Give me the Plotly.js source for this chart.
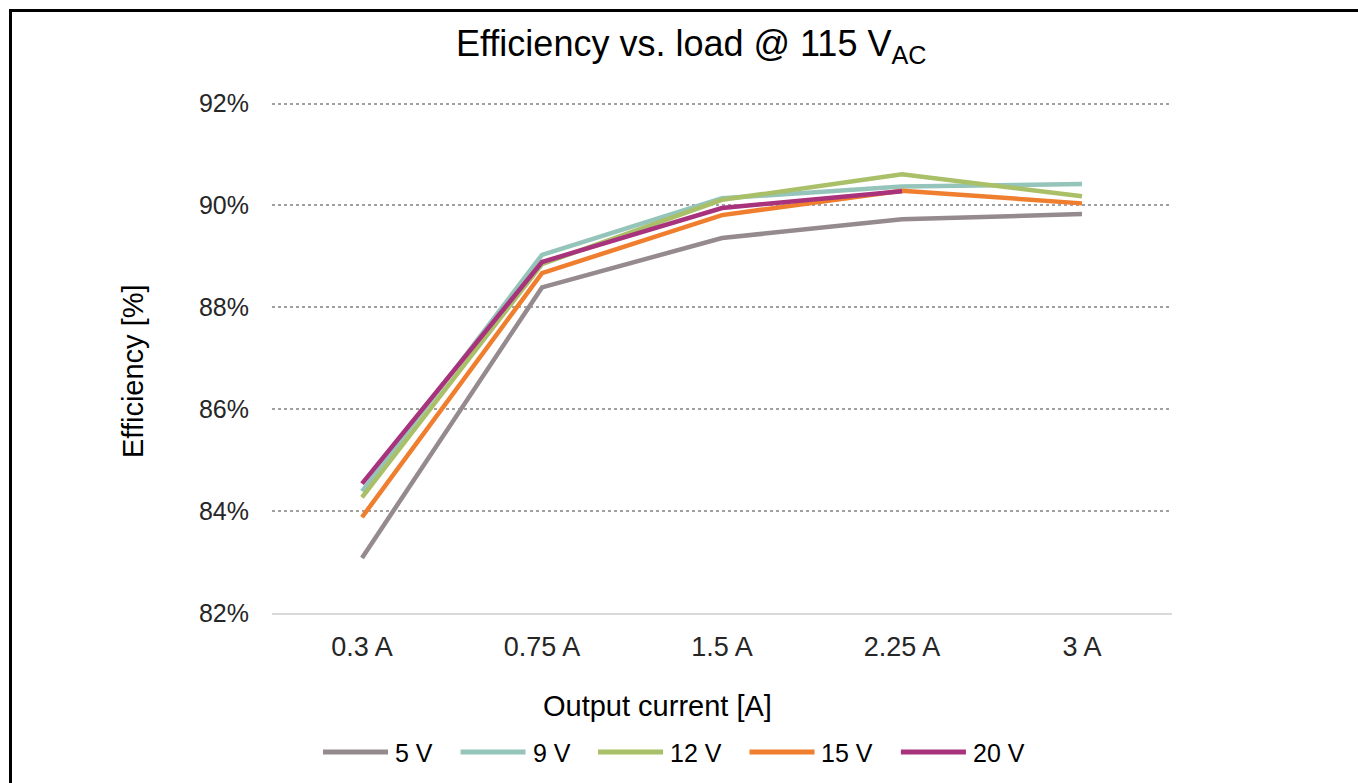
<!DOCTYPE html>
<html>
<head>
<meta charset="utf-8">
<script src="https://cdn.plot.ly/plotly-3.0.1.min.js"></script>
<style>
  html, body { margin: 0; padding: 0; background: #fff; }
  #chart { width: 1358px; height: 783px; }
  #frame { position: absolute; left: 9px; top: 9px; width: 1360px; height: 790px;
           border-left: 3px solid #000; border-top: 3px solid #000; pointer-events: none; }
</style>
</head>
<body>
<div id="chart"></div>
<div id="frame"></div>
<script>
const categories = ["0.3 A", "0.75 A", "1.5 A", "2.25 A", "3 A"];
const seriesNames = ["5 V", "9 V", "12 V", "15 V", "20 V"];
const v5  = [83.08, 88.39, 89.36, 89.73, 89.83];
const v9  = [84.39, 89.03, 90.14, 90.37, 90.42];
const v12 = [84.27, 88.85, 90.11, 90.61, 90.18];
const v15 = [83.88, 88.67, 89.81, 90.29, 90.04];
const v20 = [84.54, 88.89, 89.95, 90.28, null];
const yTicks = [82, 84, 86, 88, 90, 92];
const yTickText = ["82%", "84%", "86%", "88%", "90%", "92%"];
const colors = ["#958a8d", "#95c4ba", "#a9c068", "#f07e2f", "#a8327b"];

const allValues = [v5, v9, v12, v15, v20];
const traces = allValues.map((vals, i) => ({
  type: "scatter",
  mode: "lines",
  name: seriesNames[i],
  x: categories,
  y: vals,
  line: { color: colors[i], width: 4.5 },
  connectgaps: false,
  showlegend: false
}));

const font = "Liberation Sans, Arial, sans-serif";

// plot geometry (pixels) used to place the custom legend in paper coords
const M = { l: 272, r: 186, t: 102, b: 170 };
const W = 1358, H = 783;
const pw = W - M.l - M.r, ph = H - M.t - M.b;
const px2x = px => (px - M.l) / pw;
const py2y = py => (H - M.b - py) / ph;

// custom legend with long line samples, built from seriesNames / colors
const legendFontSize = 25;
const ctx = document.createElement("canvas").getContext("2d");
ctx.font = legendFontSize + "px 'Liberation Sans', Arial, sans-serif";
const legendShapes = [], legendAnn = [];
let lx = 323;
const legendY = 752, lineLen = 65, txtGap = 5, itemGap = 30;
seriesNames.forEach((name, i) => {
  legendShapes.push({
    type: "line", xref: "paper", yref: "paper",
    x0: px2x(lx), x1: px2x(lx + lineLen), y0: py2y(legendY), y1: py2y(legendY),
    line: { color: colors[i], width: 5 }
  });
  legendAnn.push({
    text: name, xref: "paper", yref: "paper",
    x: px2x(lx + lineLen + txtGap), y: py2y(legendY + 1),
    xanchor: "left", yanchor: "middle", showarrow: false,
    font: { size: legendFontSize, color: "#000" }
  });
  lx += lineLen + txtGap + ctx.measureText(name).width + itemGap;
});

const layout = {
  width: W, height: H,
  margin: M,
  paper_bgcolor: "#fff", plot_bgcolor: "#fff",
  font: { family: font, color: "#000" },
  title: {
    text: "Efficiency vs. load @ 115 V<sub>AC</sub>",
    font: { size: 36, color: "#000", family: font },
    x: 0.509, xanchor: "center", y: 0.944, yanchor: "middle"
  },
  xaxis: {
    type: "category",
    range: [-0.5, 4.5],
    showgrid: false,
    showline: true, linecolor: "#d9d9d9", linewidth: 2,
    ticks: "", tickfont: { size: 27, color: "#262626" },
    ticklabelstandoff: 9
  },
  yaxis: {
    range: [82, 92.03],
    tickvals: yTicks, ticktext: yTickText,
    showgrid: true, gridcolor: "#a0a0a0", gridwidth: 2, griddash: "dot",
    zeroline: false, showline: false, ticks: "",
    tickfont: { size: 25, color: "#262626" },
    ticklabelstandoff: 22
  },
  shapes: legendShapes,
  annotations: [
    { text: "Output current [A]", xref: "paper", yref: "paper",
      x: px2x(657), y: py2y(706), xanchor: "center", yanchor: "middle",
      showarrow: false, font: { size: 29, color: "#000" } },
    { text: "Efficiency [%]", xref: "paper", yref: "paper",
      x: px2x(133), y: py2y(371), xanchor: "center", yanchor: "middle", textangle: -90,
      showarrow: false, font: { size: 29, color: "#000" } }
  ].concat(legendAnn),
  showlegend: false
};

Plotly.newPlot("chart", traces, layout, { displayModeBar: false, staticPlot: true });
</script>
</body>
</html>
